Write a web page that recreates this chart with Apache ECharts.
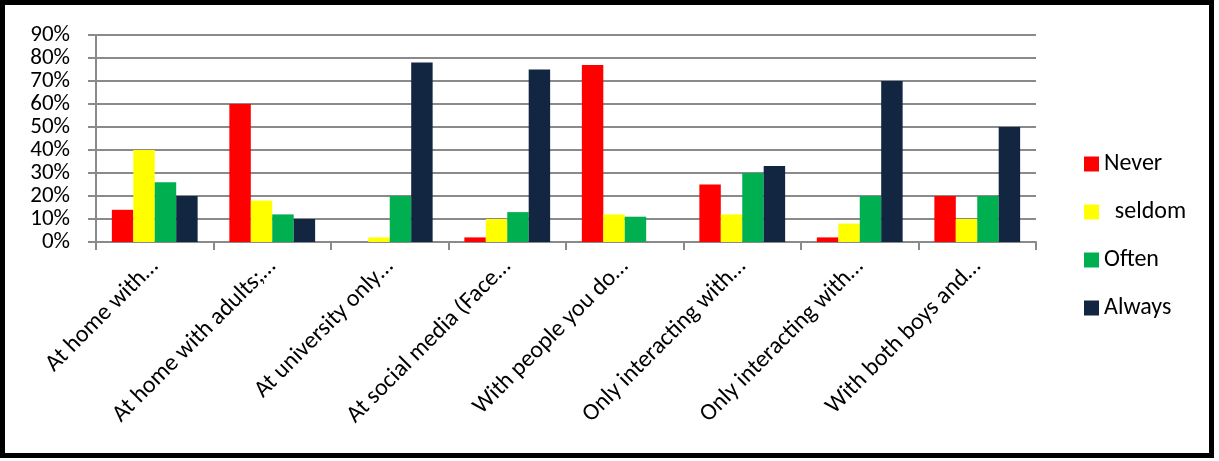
<!DOCTYPE html>
<html>
<head>
<meta charset="utf-8">
<script src="https://cdn.jsdelivr.net/npm/echarts@6/dist/echarts.min.js"></script>
<style>
  html, body { margin: 0; padding: 0; background: #fff; }
  #chart { width: 1219px; height: 461px; }
</style>
</head>
<body>
<div id="chart"></div>
<script>
// Survey categories (labels shortened with an ellipsis)
const categories = [
  'At home with…',
  'At home with adults;…',
  'At university only…',
  'At social media (Face…',
  'With people you do…',
  'Only interacting with…',
  'Only interacting with…',
  'With both boys and…'
];

// Percent of respondents per answer
const never  = [14, 60, 0, 2, 77, 25, 2, 20];
const seldom = [40, 18, 2, 10, 12, 12, 8, 10];
const often  = [26, 12, 20, 13, 11, 30, 20, 20];
const always = [20, 10, 78, 75, 0, 33, 70, 50];

// Value axis ticks
const yTicks = { min: 0, max: 90, interval: 10 };

const seriesNames = ['Never', '  seldom', 'Often', 'Always'];
const seriesColors = ['#ff0000', '#ffff00', '#00b050', '#132641'];
const seriesData = [never, seldom, often, always];

const FONT = 'Carlito, Lato, sans-serif';
const GRID_GRAY = '#8a8a8a';

const chart = echarts.init(document.getElementById('chart'), null, { renderer: 'canvas' });

chart.setOption({
  backgroundColor: '#ffffff',
  animation: false,
  grid: { left: 96, right: 183, top: 35, bottom: 219, containLabel: false },
  legend: {
    orient: 'vertical',
    left: 1079,
    top: 146,
    itemWidth: 15,
    itemHeight: 15,
    itemGap: 22,
    icon: 'rect',
    data: seriesNames,
    textStyle: { fontFamily: FONT, fontSize: 24, color: '#000', lineHeight: 26 }
  },
  xAxis: {
    type: 'category',
    data: categories,
    axisLine: { show: true, lineStyle: { color: GRID_GRAY, width: 2 } },
    axisTick: { show: true, length: 8, alignWithLabel: false, lineStyle: { color: GRID_GRAY, width: 2 } },
    axisLabel: {
      interval: 0,
      rotate: 45,
      margin: 21,
      fontFamily: FONT,
      fontSize: 24,
      color: '#000'
    }
  },
  yAxis: {
    type: 'value',
    min: yTicks.min,
    max: yTicks.max,
    interval: yTicks.interval,
    axisLine: { show: true, lineStyle: { color: GRID_GRAY, width: 2 } },
    axisTick: { show: true, length: 8, lineStyle: { color: GRID_GRAY, width: 2 } },
    splitLine: { show: true, lineStyle: { color: GRID_GRAY, width: 2 } },
    axisLabel: {
      formatter: '{value}%',
      margin: 26,
      fontFamily: FONT,
      fontSize: 23,
      color: '#000'
    }
  },
  series: seriesNames.map((name, i) => ({
    name: name,
    type: 'bar',
    data: seriesData[i],
    barGap: '0%',
    barCategoryGap: '27%',
    itemStyle: { color: seriesColors[i] }
  })),
  graphic: [{
    type: 'rect',
    left: 0, top: 0,
    shape: { x: 7.5, y: 5.8, width: 1209, height: 453 },
    style: { fill: 'none', stroke: '#000', lineWidth: 5 },
    z: 100
  }]
});
</script>
</body>
</html>
